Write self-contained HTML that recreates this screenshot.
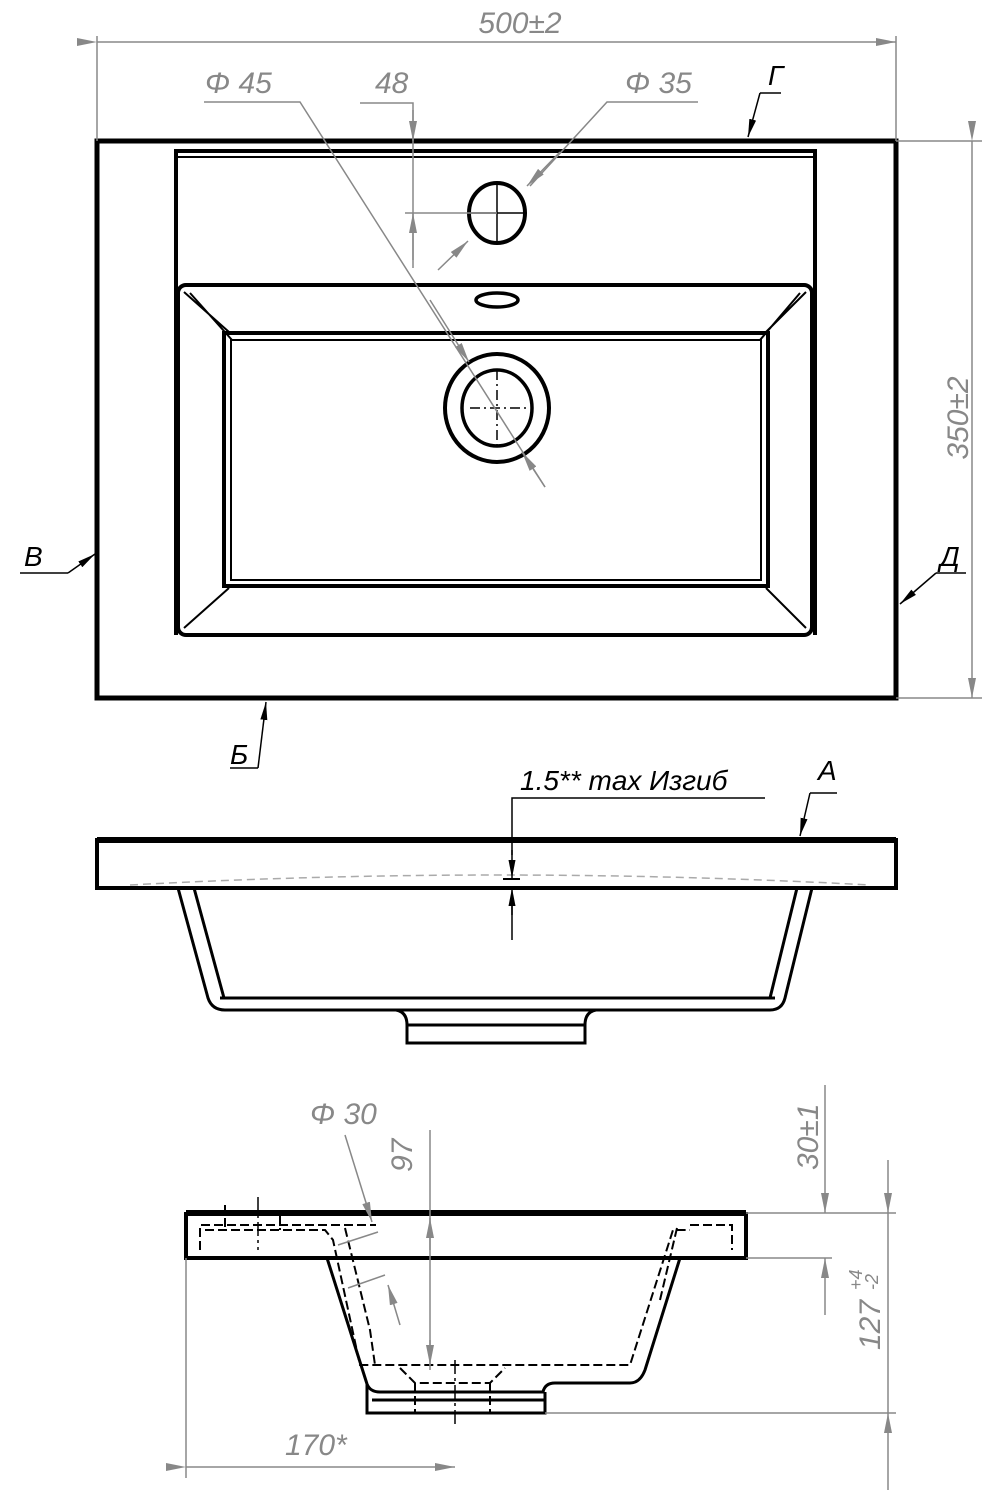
<!DOCTYPE html>
<html><head><meta charset="utf-8"><style>
html,body{margin:0;padding:0;background:#fff;}
svg{display:block}
.g{stroke:#888;stroke-width:1.5;fill:none}
.k{stroke:#000;fill:none}
.t{font-family:"Liberation Sans",sans-serif;font-style:italic;fill:#888;font-size:30px}
.tb{font-family:"Liberation Sans","Noto Sans CJK SC",sans-serif;font-style:italic;fill:#000;font-size:28px}
</style></head><body>
<svg width="1002" height="1500" viewBox="0 0 1002 1500" xmlns="http://www.w3.org/2000/svg">
<defs>
<marker id="ag" viewBox="0 0 20 8" refX="20" refY="4" markerWidth="20" markerHeight="8" markerUnits="userSpaceOnUse" orient="auto"><path d="M0,0 L20,4 L0,8 Z" fill="#888"/></marker>
<marker id="ak" viewBox="0 0 18 7" refX="18" refY="3.5" markerWidth="18" markerHeight="7" markerUnits="userSpaceOnUse" orient="auto"><path d="M0,0 L18,3.5 L0,7 Z" fill="#000"/></marker>
</defs>

<!-- TOP VIEW -->
<rect x="97" y="141" width="799" height="557" class="k" stroke-width="5"/>
<path d="M176,635 V151 H815 V635" class="k" stroke-width="4"/>
<line x1="176" y1="157" x2="815" y2="157" class="k" stroke-width="2"/>
<rect x="178" y="285" width="634" height="350" rx="8" class="k" stroke-width="4"/>
<path d="M184,292 L229,332 M806,292 L766,332 M184,628 L229,588 M806,628 L766,588 M190,293 L232,340 M800,293 L760,340" class="k" stroke-width="2"/>
<rect x="224" y="333" width="544" height="253" class="k" stroke-width="4"/>
<rect x="231" y="340" width="530" height="240" class="k" stroke-width="2"/>
<ellipse cx="497" cy="213" rx="28" ry="30" class="k" stroke-width="4"/>
<path d="M467,213 H527 M497,182 V245" class="k" stroke-width="1.5"/>
<ellipse cx="497" cy="300" rx="21" ry="7" class="k" stroke-width="3.5"/>
<ellipse cx="497" cy="408" rx="52" ry="54" class="k" stroke-width="4"/>
<ellipse cx="497" cy="408" rx="35" ry="38" class="k" stroke-width="3.5"/>
<path d="M470,408 H530 M497,370 V446" class="k" stroke-width="1.5" stroke-dasharray="10,4,2,4"/>

<!-- dims top -->
<path d="M97,36 V141 M896,36 V141" class="g"/>
<line x1="97" y1="42" x2="896" y2="42" class="g" marker-start="url(#ag)" marker-end="url(#ag)"/>
<text x="520" y="33" class="t" text-anchor="middle">500±2</text>
<text x="205" y="93" class="t">Φ 45</text>
<path d="M204,102 H300 L545,487" class="g"/>
<line x1="430" y1="300" x2="469" y2="362" class="g" marker-end="url(#ag)"/>
<line x1="545" y1="487" x2="522" y2="452" class="g" marker-end="url(#ag)"/>
<text x="375" y="93" class="t">48</text>
<path d="M360,103 H413 V268 M405,213 H497" class="g"/>
<line x1="413" y1="110" x2="413" y2="141" class="g" marker-end="url(#ag)"/>
<line x1="413" y1="260" x2="413" y2="213" class="g" marker-end="url(#ag)"/>
<text x="625" y="93" class="t">Φ 35</text>
<path d="M698,102 H607 L530,186" class="g"/>
<line x1="560" y1="152" x2="527" y2="186" class="g" marker-end="url(#ag)"/>
<line x1="438" y1="270" x2="468" y2="241" class="g" marker-end="url(#ag)"/>
<text x="768" y="85" class="tb">Г</text>
<path d="M781,93 H760" class="k" stroke-width="1.5"/>
<line x1="760" y1="93" x2="748" y2="137" class="k" stroke-width="1.5" marker-end="url(#ak)"/>
<path d="M896,141 H982 M896,698 H982" class="g"/>
<line x1="972" y1="141" x2="972" y2="698" class="g" marker-start="url(#ag)" marker-end="url(#ag)"/>
<text x="0" y="0" class="t" text-anchor="middle" transform="translate(968,418) rotate(-90)">350±2</text>
<text x="24" y="566" class="tb">В</text>
<path d="M20,573 H68" class="k" stroke-width="1.5"/>
<line x1="68" y1="573" x2="95" y2="554" class="k" stroke-width="1.5" marker-end="url(#ak)"/>
<text x="940" y="566" class="tb">Д</text>
<path d="M936,573 H966" class="k" stroke-width="1.5"/>
<line x1="936" y1="573" x2="900" y2="604" class="k" stroke-width="1.5" marker-end="url(#ak)"/>
<text x="230" y="764" class="tb">Б</text>
<path d="M230,768 H258" class="k" stroke-width="1.5"/>
<line x1="258" y1="768" x2="266" y2="702" class="k" stroke-width="1.5" marker-end="url(#ak)"/>

<!-- SIDE VIEW -->
<rect x="97" y="840" width="799" height="48" class="k" stroke-width="4"/>
<line x1="97" y1="840" x2="896" y2="840" class="k" stroke-width="6"/>
<path d="M130,885 Q497,865 870,885" stroke="#aaa" stroke-width="1.5" fill="none" stroke-dasharray="8,5"/>
<path d="M178,888 L208,998 Q212,1010 225,1010 H770 Q782,1010 785,998 L812,888" class="k" stroke-width="3"/>
<path d="M194,888 L224,998 M797,888 L770,998 M220,998 H775" class="k" stroke-width="3"/>
<path d="M396,1010 Q407,1012 407,1025 V1043 H585 V1025 Q585,1012 596,1010" class="k" stroke-width="3"/>
<line x1="407" y1="1025" x2="585" y2="1025" class="k" stroke-width="3"/>
<path d="M503,879 H520" class="k" stroke-width="2"/>
<text x="520" y="790" class="tb">1.5** max Изгиб</text>
<path d="M765,798 H512 V855 M512,940 V905" class="k" stroke-width="1.5"/>
<line x1="512" y1="850" x2="512" y2="878" class="k" stroke-width="1.5" marker-end="url(#ak)"/>
<line x1="512" y1="915" x2="512" y2="888" class="k" stroke-width="1.5" marker-end="url(#ak)"/>
<text x="818" y="780" class="tb">А</text>
<path d="M837,793 H810" class="k" stroke-width="1.5"/>
<line x1="810" y1="793" x2="800" y2="836" class="k" stroke-width="1.5" marker-end="url(#ak)"/>

<!-- BOTTOM VIEW -->
<rect x="186" y="1214" width="560" height="44" class="k" stroke-width="4"/>
<line x1="186" y1="1213" x2="746" y2="1213" class="k" stroke-width="6"/>
<path d="M327,1258 L367,1384 Q370,1392 380,1392 H543 Q545,1383 555,1383 H630 Q640,1383 645,1370 L680,1258" class="k" stroke-width="3"/>
<path d="M367,1384 V1413 H545 V1392 M372,1400 H545" class="k" stroke-width="3"/>
<g stroke="#000" stroke-width="2" fill="none" stroke-dasharray="9,4">
<path d="M200,1250 V1225 H376 M690,1225 H732 V1250"/>
<path d="M205,1230 H325 L333,1240 L360,1365 H630 L673,1230 H690"/>
<path d="M345,1228 L370,1330 L375,1365 M677,1228 L660,1300"/>
<path d="M400,1368 L415,1383 H490 L505,1368"/>
<path d="M415,1383 V1413 M490,1383 V1413 M225,1205 V1230 M280,1215 V1230"/>
</g>
<path d="M258,1197 V1250 M455,1360 V1425" stroke="#000" stroke-width="1.5" stroke-dasharray="14,4,3,4"/>
<text x="310" y="1124" class="t">Φ 30</text>
<line x1="345" y1="1135" x2="372" y2="1222" class="g" marker-end="url(#ag)"/>
<line x1="400" y1="1325" x2="388" y2="1285" class="g" marker-end="url(#ag)"/>
<path d="M338,1245 L378,1232 M348,1288 L385,1275" class="g"/>
<line x1="430" y1="1130" x2="430" y2="1370" class="g"/>
<line x1="430" y1="1250" x2="430" y2="1218" class="g" marker-end="url(#ag)"/>
<line x1="430" y1="1340" x2="430" y2="1365" class="g" marker-end="url(#ag)"/>
<text x="0" y="0" class="t" transform="translate(412,1172) rotate(-90)">97</text>
<path d="M746,1213 H896 M746,1258 H832 M545,1413 H896" class="g"/>
<line x1="825" y1="1085" x2="825" y2="1213" class="g" marker-end="url(#ag)"/>
<line x1="825" y1="1315" x2="825" y2="1258" class="g" marker-end="url(#ag)"/>
<text x="0" y="0" class="t" transform="translate(818,1170) rotate(-90)">30±1</text>
<line x1="888" y1="1160" x2="888" y2="1213" class="g" marker-end="url(#ag)"/>
<line x1="888" y1="1490" x2="888" y2="1413" class="g" marker-end="url(#ag)"/>
<line x1="888" y1="1213" x2="888" y2="1413" class="g"/>
<text x="0" y="0" class="t" transform="translate(880,1350) rotate(-90)">127</text>
<text x="0" y="0" class="t" style="font-size:18px" transform="translate(862,1290) rotate(-90)">+4</text>
<text x="0" y="0" class="t" style="font-size:18px" transform="translate(878,1290) rotate(-90)">-2</text>
<path d="M186,1258 V1478" class="g"/>
<line x1="186" y1="1467" x2="455" y2="1467" class="g" marker-start="url(#ag)" marker-end="url(#ag)"/>
<text x="285" y="1455" class="t">170*</text>
</svg>
</body></html>
